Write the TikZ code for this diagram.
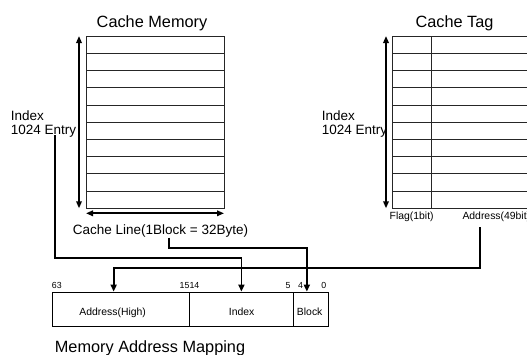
\documentclass[tikz,border=0pt]{standalone}
\usepackage{fontspec}
\setmainfont{Liberation Sans}
\usetikzlibrary{arrows.meta,calc}
\begin{document}
\begin{tikzpicture}[x=1pt,y=-1pt,
  grid/.style={line width=0.8pt, draw=black!85},
  dimarrow/.style={line width=1.7pt, {Triangle[width=5.5pt,length=7pt]}-{Triangle[width=5.5pt,length=7pt]}},
  link/.style={line width=1.7pt, -{Triangle[width=6pt,length=7pt]}},
  field/.style={draw, line width=0.8pt, inner sep=0pt, minimum height=34pt},
  title/.style={font=\fontsize{16.3}{18}\selectfont, anchor=base, inner sep=0pt},
  body/.style={font=\fontsize{13.5}{16}\selectfont, anchor=base west, inner sep=0pt},
  small/.style={font=\fontsize{10.4}{12}\selectfont, anchor=base, inner sep=0pt},
  bitno/.style={font=\fontsize{8.8}{10}\selectfont, anchor=base, inner sep=0pt}]
\useasboundingbox (0,0) rectangle (527,354);
\clip (0,0) rectangle (527,354);

% ---------- cache memory ----------
\node[title] (cmtitle) at (152,27.3) {Cache Memory};
\draw[grid] (86,36) rectangle (224,208.3);
\foreach \i in {1,...,9}
  \draw[grid] (86,36+17.23*\i) -- (224,36+17.23*\i);
\coordinate (cmtop) at (79,36);
\coordinate (cmbot) at (79,208.3);
\draw[dimarrow] (cmtop) -- (cmbot);
\coordinate (cmleft) at (86,213.3);
\coordinate (cmright) at (224,213.3);
\draw[dimarrow] (cmleft) -- (cmright);
\node[body] (cmidx) at (10.7,120.7) {Index};
\node[body] (cment) at (10.7,134.3) {1024 Entry};
\node[font=\fontsize{13.5}{16}\selectfont, anchor=base, inner sep=0pt] (cmline) at (160.5,234.3) {Cache Line(1Block = 32Byte)};

% ---------- cache tag ----------
\node[title] (cttitle) at (454.5,27.3) {Cache Tag};
\draw[grid] (392.7,36) rectangle (545,208.3);
\foreach \i in {1,...,9}
  \draw[grid] (392.7,36+17.23*\i) -- (545,36+17.23*\i);
\draw[grid] (431,36) -- (431,208.3);
\coordinate (cttop) at (386,36);
\coordinate (ctbot) at (386,208.3);
\draw[dimarrow] (cttop) -- (ctbot);
\node[body] (ctidx) at (321.7,120.7) {Index};
\node[body] (ctent) at (321.7,134.3) {1024 Entry};
\node[small] (ctflag) at (411.7,219) {Flag(1bit)};
\node[small, anchor=base west] (ctaddr) at (462.3,219) {Address(49bit)};

% ---------- memory address mapping ----------
\node[field, minimum width=137.5pt] (fhigh) at (120.95,309) {};
\node[field, minimum width=103.8pt] (fidx) at (241.4,309) {};
\node[field, minimum width=34.7pt] (fblk) at (310.65,309) {};
\node[small] (lhigh) at (112.7,315.3) {Address(High)};
\node[small] (lidx) at (241.7,315.3) {Index};
\node[small] (lblk) at (309.7,315.3) {Block};
\node[bitno, anchor=base west] (b63) at (51.7,288.5) {63};
\node[bitno] (b1514) at (189.5,288.5) {1514};
\node[bitno] (b5) at (288,288.5) {5};
\node[bitno] (b4) at (300.5,288.5) {4};
\node[bitno] (b0) at (323.8,288.5) {0};
\node[title] (mamtitle) at (150,352) {Memory Address Mapping};

% ---------- connectors ----------
\coordinate (ixsrc) at (55,135);
\draw[link] (ixsrc) -- ++(0,122.8) -| (fidx.north);
\coordinate (clsrc) at (168.7,237.6);
\draw[link] (clsrc) -- ++(0,10.1) -| ($(fblk.north)+(-3.8,0)$);
\coordinate (adsrc) at (479.7,227);
\draw[link] (adsrc) -- ++(0,40.9) -| ($(fhigh.north)+(-7.3,0)$);
\end{tikzpicture}
\end{document}
